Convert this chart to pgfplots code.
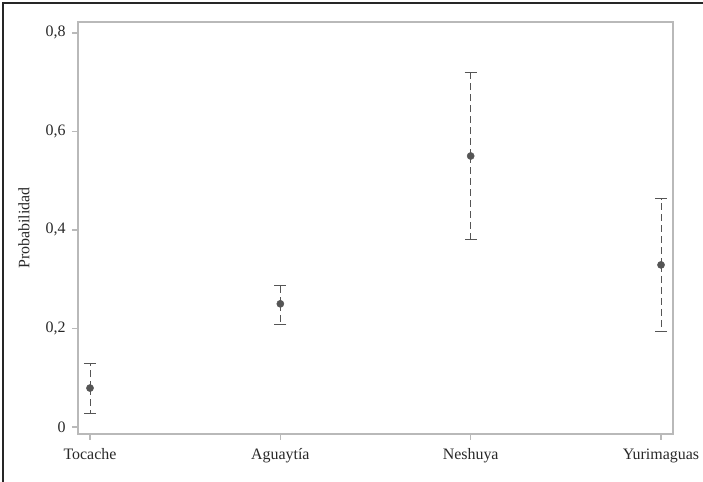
\documentclass[border=0pt]{standalone}
\usepackage{pgfplots}
\pgfplotsset{compat=1.18}
\usepackage{fontspec}
\setmainfont{Liberation Serif}
\definecolor{axgray}{RGB}{185,185,185}
\definecolor{ptgray}{RGB}{85,85,85}
\definecolor{txt}{RGB}{40,40,40}
\begin{document}
\begin{tikzpicture}[x=1bp,y=1bp]
\useasboundingbox (0,0) rectangle (703,482);
\draw[line width=1.5bp, black!85] (3,0) -- (3,479) -- (703,479);
\begin{axis}[
  at={(78bp,48bp)}, anchor=south west,
  scale only axis, width=595bp, height=412bp,
  xmin=-0.063, xmax=3.063,
  ymin=-0.0142, ymax=0.822,
  xtick={0,1,2,3},
  xticklabels={Tocache,Aguaytía,Neshuya,Yurimaguas},
  ytick={0,0.2,0.4,0.6,0.8},
  yticklabels={0,{0,2},{0,4},{0,6},{0,8}},
  tick align=outside, tick pos=left,
  major tick length=6bp,
  every tick/.style={axgray, line width=1.5bp},
  axis line style={axgray, line width=1.8bp},
  ticklabel style={font=\fontsize{16}{18}\selectfont, text=txt},
  /pgf/number format/assume math mode=true,
  ylabel={Probabilidad},
  every axis y label/.style={at={(rel axis cs:0,0.5)}, rotate=90, anchor=center, yshift=54bp, font=\fontsize{16}{18}\selectfont, text=txt},
  xticklabel style={yshift=-5bp},
  yticklabel style={xshift=-3bp},
  clip=false,
]
\addplot[
  only marks, mark=*, mark size=3.6bp, mark options={fill=ptgray, draw=ptgray},
  error bars/.cd, y dir=both, y explicit,
  error bar style={ptgray, line width=0.9bp, dash pattern=on 7bp off 4bp},
  error mark options={ptgray, line width=0.9bp, solid, mark size=6bp, rotate=90},
] table[x=x, y=y, y error plus=ep, y error minus=em] {
x y ep em
0 0.079 0.049 0.051
1 0.250 0.038 0.041
2 0.550 0.169 0.170
3 0.329 0.134 0.136
};
\end{axis}
\end{tikzpicture}
\end{document}
